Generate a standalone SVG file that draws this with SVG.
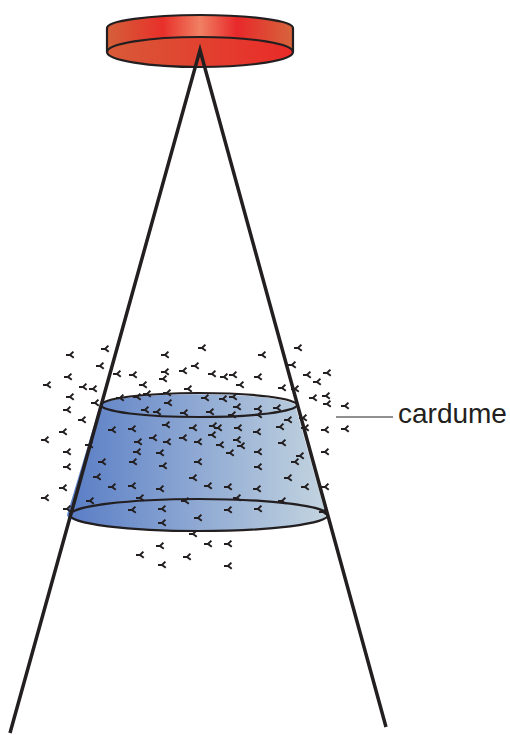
<svg xmlns="http://www.w3.org/2000/svg" width="510" height="735" viewBox="0 0 510 735">
  <defs>
    <linearGradient id="bandGrad" x1="107" y1="0" x2="293" y2="0" gradientUnits="userSpaceOnUse">
      <stop offset="0" stop-color="#d4603a"/>
      <stop offset="0.3" stop-color="#e8302a"/>
      <stop offset="0.5" stop-color="#f08063"/>
      <stop offset="0.7" stop-color="#e8282a"/>
      <stop offset="1" stop-color="#d6653c"/>
    </linearGradient>
    <linearGradient id="faceGrad" x1="107" y1="0" x2="293" y2="0" gradientUnits="userSpaceOnUse">
      <stop offset="0" stop-color="#d85a38"/>
      <stop offset="1" stop-color="#ea2a28"/>
    </linearGradient>
    <linearGradient id="schoolGrad" x1="70" y1="0" x2="328" y2="0" gradientUnits="userSpaceOnUse">
      <stop offset="0" stop-color="#5a7ec6"/>
      <stop offset="1" stop-color="#c4d5e0"/>
    </linearGradient>
    <!-- one small fish: short stem with a forked tail -->
    <path id="fish" d="M-4,0 L0,0 L3.4,-3.4 M0,0 L3.8,2.8"/>
  </defs>
  <style>
    .edge { fill: none; stroke: #231f20; stroke-width: 2.2; }
    .beam { fill: none; stroke: #231f20; stroke-width: 3.5; stroke-linejoin: miter; stroke-miterlimit: 20; }
    .fishes use { stroke: #231f20; stroke-width: 2; fill: none; stroke-linecap: butt; }
    .label { font-family: "Liberation Sans", Arial, sans-serif; font-size: 28px; fill: #231f20; }
    .leader { stroke: #231f20; stroke-width: 1; }
  </style>

  <!-- transducer disc -->
  <g id="transducer">
    <path d="M107,28 A93,13 0 0 1 293,28 L293,52 A93,15 0 0 0 107,52 Z" fill="url(#bandGrad)"/>
    <ellipse cx="200" cy="52" rx="93" ry="15" fill="url(#faceGrad)"/>
    <path class="edge" d="M107,52 L107,28 A93,13 0 0 1 293,28 L293,52"/>
    <ellipse class="edge" cx="200" cy="52" rx="93" ry="15"/>
  </g>

  <!-- fish school volume -->
  <g id="school">
    <path d="M100,405 L67,515 A129,16 0 0 0 326,515 L295,405 A98,12 0 0 0 100,405 Z" fill="url(#schoolGrad)"/>
    <ellipse class="edge" cx="199" cy="405" rx="98" ry="12"/>
    <ellipse class="edge" cx="199" cy="515" rx="129" ry="16"/>
  </g>

  <!-- sonar beam -->
  <g id="connectors">
    <path class="beam" d="M10,733 L200,50 L386,727"/>
    <line class="leader" x1="336" y1="417" x2="393" y2="417"/>
  </g>

  <!-- individual fish -->
  <g id="fish-school" class="fishes">
    <use href="#fish" x="70" y="355"/><use href="#fish" x="105" y="349"/><use href="#fish" x="100" y="366"/>
    <use href="#fish" x="68" y="377"/><use href="#fish" x="47" y="385"/><use href="#fish" x="83" y="387"/>
    <use href="#fish" x="93" y="389"/><use href="#fish" x="117" y="374"/><use href="#fish" x="133" y="375"/>
    <use href="#fish" x="143" y="385"/><use href="#fish" x="70" y="397"/><use href="#fish" x="95" y="403"/>
    <use href="#fish" x="67" y="410"/><use href="#fish" x="82" y="420"/><use href="#fish" x="63" y="432"/>
    <use href="#fish" x="45" y="440"/><use href="#fish" x="67" y="452"/><use href="#fish" x="89" y="445"/>
    <use href="#fish" x="112" y="430"/><use href="#fish" x="132" y="429"/><use href="#fish" x="120" y="398"/>
    <use href="#fish" x="137" y="397"/><use href="#fish" x="147" y="394"/><use href="#fish" x="165" y="355"/>
    <use href="#fish" x="165" y="372"/><use href="#fish" x="163" y="379"/><use href="#fish" x="183" y="371"/>
    <use href="#fish" x="195" y="366"/><use href="#fish" x="202" y="348"/><use href="#fish" x="212" y="374"/>
    <use href="#fish" x="188" y="389"/><use href="#fish" x="167" y="393"/><use href="#fish" x="145" y="410"/>
    <use href="#fish" x="157" y="412"/><use href="#fish" x="168" y="403"/><use href="#fish" x="184" y="413"/>
    <use href="#fish" x="205" y="398"/><use href="#fish" x="166" y="425"/>
    <use href="#fish" x="138" y="442"/><use href="#fish" x="153" y="438"/><use href="#fish" x="167" y="442"/>
    <use href="#fish" x="183" y="438"/><use href="#fish" x="193" y="428"/><use href="#fish" x="198" y="442"/>
    <use href="#fish" x="212" y="435"/><use href="#fish" x="213" y="426"/><use href="#fish" x="210" y="412"/>
    <use href="#fish" x="137" y="452"/><use href="#fish" x="160" y="453"/>
    <use href="#fish" x="262" y="355"/><use href="#fish" x="298" y="348"/><use href="#fish" x="292" y="365"/>
    <use href="#fish" x="224" y="377"/><use href="#fish" x="233" y="375"/><use href="#fish" x="258" y="377"/>
    <use href="#fish" x="307" y="375"/><use href="#fish" x="317" y="382"/><use href="#fish" x="327" y="373"/>
    <use href="#fish" x="240" y="385"/><use href="#fish" x="282" y="388"/><use href="#fish" x="295" y="389"/>
    <use href="#fish" x="223" y="399"/><use href="#fish" x="233" y="397"/>
    <use href="#fish" x="237" y="407"/><use href="#fish" x="258" y="409"/><use href="#fish" x="277" y="408"/>
    <use href="#fish" x="313" y="398"/><use href="#fish" x="326" y="396"/><use href="#fish" x="327" y="404"/>
    <use href="#fish" x="345" y="406"/><use href="#fish" x="232" y="415"/>
    <use href="#fish" x="258" y="415"/><use href="#fish" x="288" y="420"/><use href="#fish" x="303" y="418"/>
    <use href="#fish" x="280" y="427"/><use href="#fish" x="218" y="428"/><use href="#fish" x="238" y="428"/>
    <use href="#fish" x="257" y="432"/><use href="#fish" x="305" y="428"/><use href="#fish" x="325" y="430"/>
    <use href="#fish" x="345" y="429"/><use href="#fish" x="220" y="445"/><use href="#fish" x="237" y="440"/>
    <use href="#fish" x="241" y="446"/><use href="#fish" x="258" y="452"/><use href="#fish" x="282" y="443"/>
    <use href="#fish" x="300" y="456"/><use href="#fish" x="325" y="452"/>
    <use href="#fish" x="133" y="462"/><use href="#fish" x="102" y="462"/>
    <use href="#fish" x="67" y="467"/><use href="#fish" x="163" y="466"/><use href="#fish" x="198" y="462"/>
    <use href="#fish" x="97" y="477"/><use href="#fish" x="63" y="488"/><use href="#fish" x="45" y="498"/>
    <use href="#fish" x="112" y="487"/><use href="#fish" x="132" y="486"/><use href="#fish" x="160" y="489"/>
    <use href="#fish" x="193" y="478"/><use href="#fish" x="208" y="486"/><use href="#fish" x="90" y="501"/>
    <use href="#fish" x="140" y="498"/><use href="#fish" x="185" y="501"/><use href="#fish" x="67" y="509"/>
    <use href="#fish" x="132" y="510"/><use href="#fish" x="162" y="509"/><use href="#fish" x="198" y="518"/>
    <use href="#fish" x="162" y="523"/><use href="#fish" x="193" y="534"/><use href="#fish" x="208" y="544"/>
    <use href="#fish" x="160" y="546"/><use href="#fish" x="140" y="555"/><use href="#fish" x="187" y="557"/>
    <use href="#fish" x="162" y="565"/>
    <use href="#fish" x="230" y="453"/><use href="#fish" x="295" y="462"/><use href="#fish" x="258" y="467"/>
    <use href="#fish" x="288" y="478"/><use href="#fish" x="228" y="487"/><use href="#fish" x="257" y="489"/>
    <use href="#fish" x="305" y="487"/><use href="#fish" x="325" y="487"/><use href="#fish" x="237" y="498"/>
    <use href="#fish" x="282" y="501"/><use href="#fish" x="228" y="510"/><use href="#fish" x="258" y="509"/>
    <use href="#fish" x="323" y="512"/><use href="#fish" x="228" y="544"/><use href="#fish" x="228" y="566"/>
  </g>

  <g id="label-cardume">
    <text class="label" x="398" y="423">cardume</text>
  </g>
</svg>
